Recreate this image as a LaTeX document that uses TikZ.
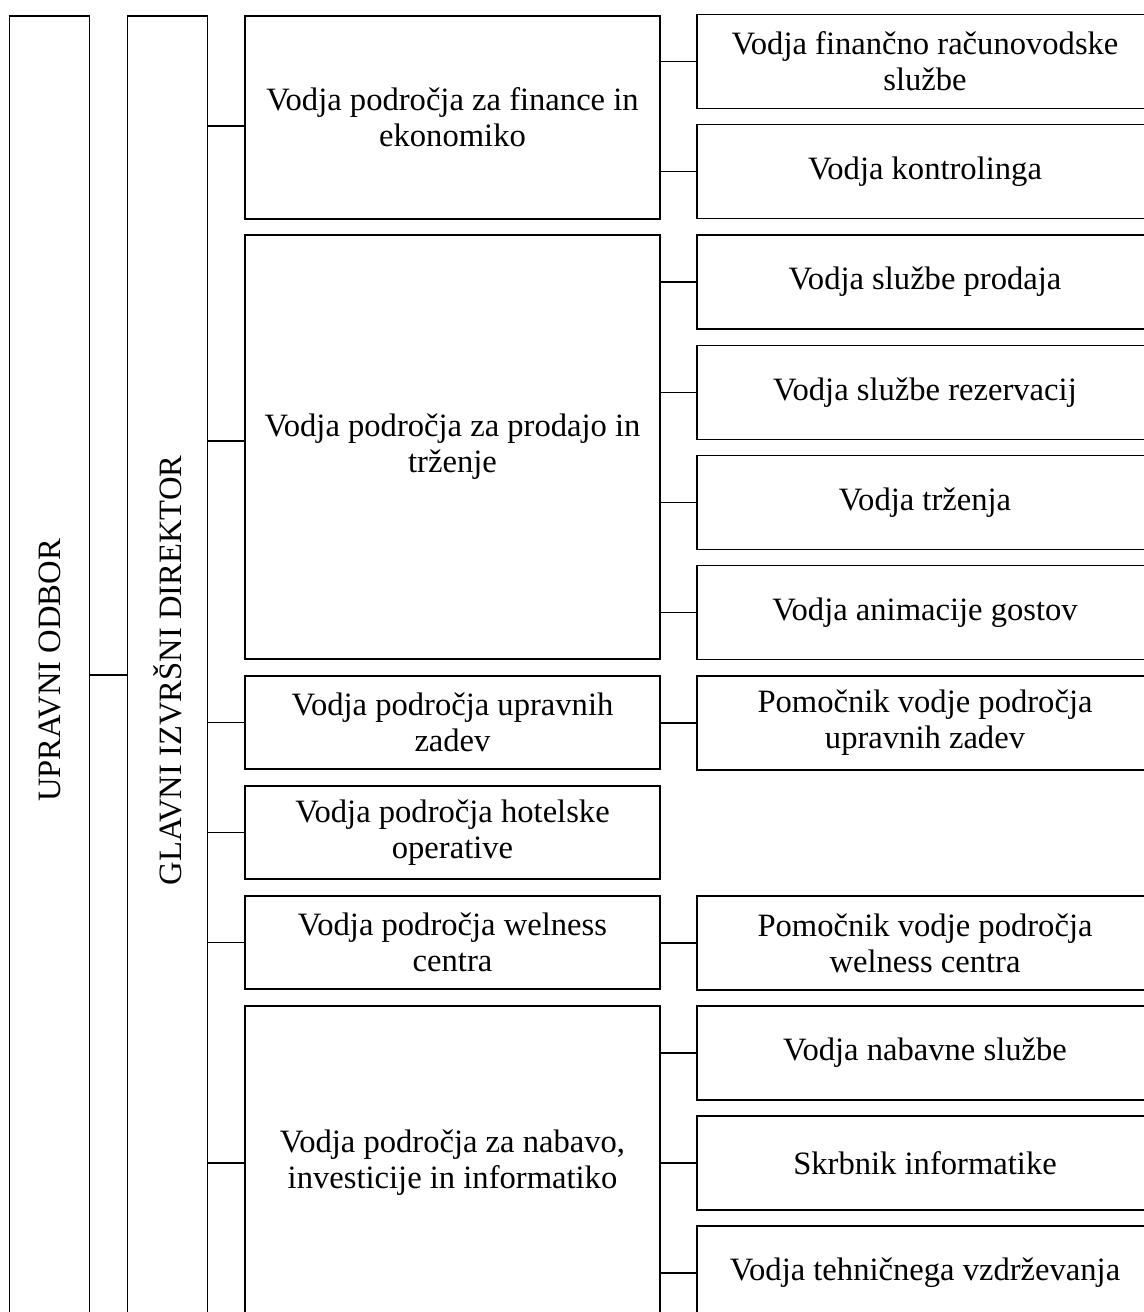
\documentclass[tikz,border=0pt]{standalone}
\usepackage{fontspec}
\setmainfont{Liberation Serif}
\begin{document}
\begin{tikzpicture}[x=0.5pt,y=-0.5pt,
  box/.style={draw,line width=0.85pt,inner sep=0pt,outer sep=0pt,align=center,
    font=\fontsize{16.3}{18}\selectfont},
  colbox/.style={box,minimum width=40pt,minimum height=654.5pt},
  midbox/.style={box,minimum width=207.5pt},
  rbox/.style={box,minimum width=228pt,minimum height=47pt},
  conn/.style={line width=0.85pt}]
\useasboundingbox (0,0) rectangle (1144,1312);
\clip (0,0) rectangle (1144,1312);
\fill[white] (0,0) rectangle (1144,1312);
% columns
\node[colbox] (col1) at (49.5,670.5) {\rotatebox{90}{UPRAVNI ODBOR}};
\node[colbox] (col2) at (167.5,670.5) {\rotatebox{90}{GLAVNI IZVRŠNI DIREKTOR}};
% middle
\node[midbox,minimum height=101.5pt] (m1) at (452.5,117.5) {Vodja področja za finance in\\ekonomiko};
\node[midbox,minimum height=212pt] (m2) at (452.5,447) {Vodja področja za prodajo in\\trženje};
\node[midbox,minimum height=46.5pt] (m3) at (452.5,722.5) {Vodja področja upravnih\\zadev};
\node[midbox,minimum height=46.5pt] (m4) at (452.5,832.5) {Vodja področja hotelske\\operative};
\node[midbox,minimum height=46.5pt] (m5) at (452.5,942.5) {Vodja področja welness\\centra};
\node[midbox,minimum height=157pt] (m6) at (452.5,1163) {Vodja področja za nabavo,\\investicije in informatiko};
% right
\node[rbox] (r1) at (925,61.5) {Vodja finančno računovodske\\službe};
\node[rbox] (r2) at (925,171.5) {Vodja kontrolinga};
\node[rbox] (r3) at (925,282) {Vodja službe prodaja};
\node[rbox] (r4) at (925,392.5) {Vodja službe rezervacij};
\node[rbox] (r5) at (925,502.5) {Vodja trženja};
\node[rbox] (r6) at (925,612.5) {Vodja animacije gostov};
\node[rbox] (r7) at (925,723) {Pomočnik vodje področja\\upravnih zadev};
\node[rbox] (r8) at (925,943) {Pomočnik vodje področja\\welness centra};
\node[rbox] (r9) at (925,1053) {Vodja nabavne službe};
\node[rbox] (r10) at (925,1163) {Skrbnik informatike};
\node[rbox] (r11) at (925,1273) {Vodja tehničnega vzdrževanja};
% connectors col1-col2
\path ([yshift=-2.25pt]col1.east) coordinate (c0);
\draw[conn] (c0) -- (c0 -| col2.west);
% col2 - middle
\path ([yshift=-4.25pt]m1.west) coordinate (c1);
\path ([yshift=3pt]m2.west) coordinate (c2);
\draw[conn] (c1) -- (c1 -| col2.east);
\draw[conn] (c2) -- (c2 -| col2.east);
\foreach \m in {m3,m4,m5,m6}{\draw[conn] (\m.west) -- (\m.west -| col2.east);}
% middle - right
\foreach \r in {r1,r2}{\draw[conn] (\r.west) -- (\r.west -| m1.east);}
\foreach \r in {r3,r4,r5,r6}{\draw[conn] (\r.west) -- (\r.west -| m2.east);}
\draw[conn] (r7.west) -- (r7.west -| m3.east);
\draw[conn] (r8.west) -- (r8.west -| m5.east);
\foreach \r in {r9,r10,r11}{\draw[conn] (\r.west) -- (\r.west -| m6.east);}
\end{tikzpicture}
\end{document}
